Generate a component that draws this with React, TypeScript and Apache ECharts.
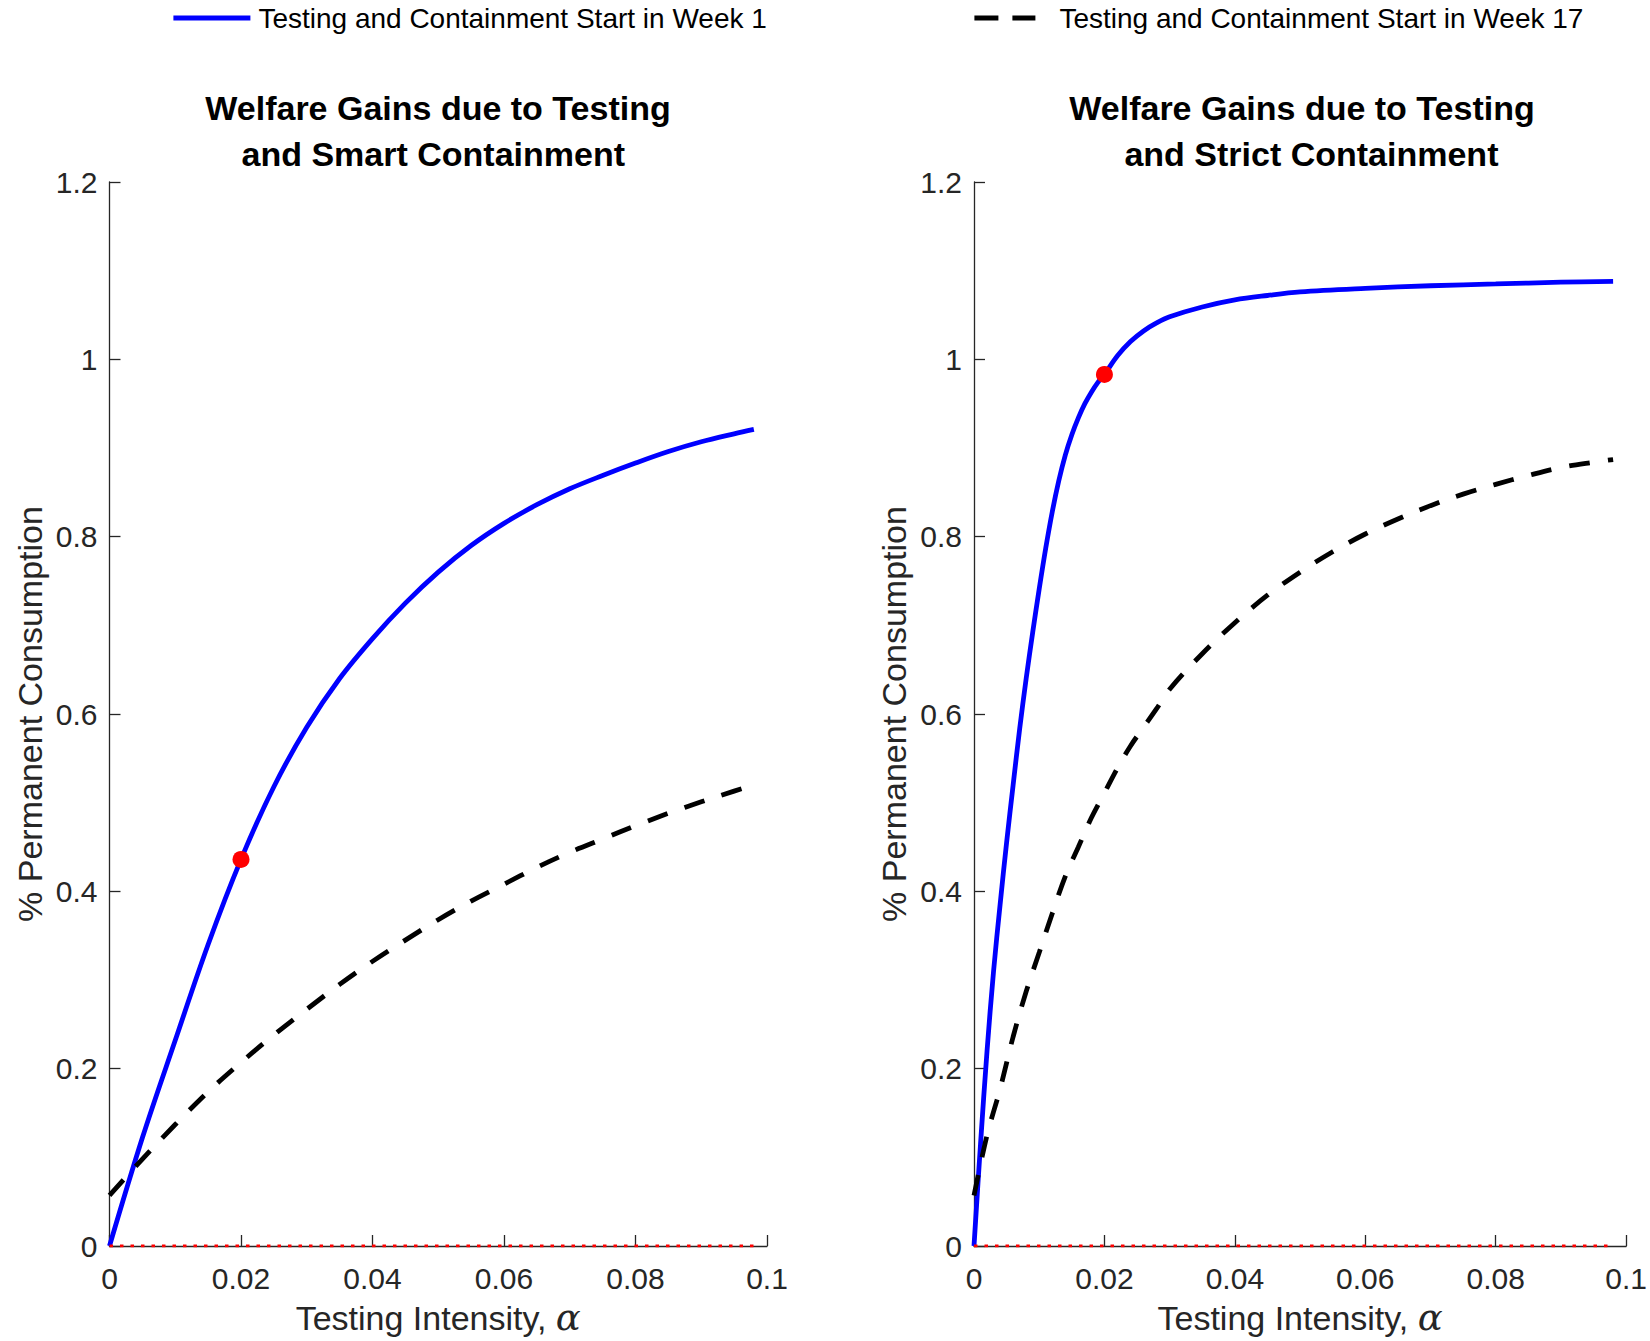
import React, { useEffect, useRef } from "react";
import * as echarts from "echarts";

const FONT = "'Liberation Sans', Arial, Helvetica, sans-serif";

const LEGEND_WEEK1 = "Testing and Containment Start in Week 1";
const LEGEND_WEEK17 = "Testing and Containment Start in Week 17";

const TITLE_SMART = "Welfare Gains due to Testing\nand Smart Containment ";
const TITLE_STRICT = "Welfare Gains due to Testing\n  and Strict Containment";

const X_AXIS_NAME = "Testing Intensity, {a|α}";
const Y_AXIS_NAME = "% Permanent Consumption";

// Left panel: testing and smart containment
const smartWeek1X = [0, 0.005, 0.01, 0.015, 0.02, 0.025, 0.03, 0.035, 0.04, 0.045, 0.05, 0.055, 0.06, 0.065, 0.07, 0.075, 0.08, 0.085, 0.09, 0.095, 0.098];
const smartWeek1Y = [0, 0.122, 0.232, 0.34, 0.436, 0.518, 0.585, 0.64, 0.685, 0.725, 0.76, 0.79, 0.815, 0.836, 0.854, 0.869, 0.883, 0.896, 0.907, 0.916, 0.921];

const smartWeek17X = [0, 0.005, 0.01, 0.015, 0.02, 0.025, 0.03, 0.035, 0.04, 0.045, 0.05, 0.055, 0.06, 0.065, 0.07, 0.075, 0.08, 0.085, 0.09, 0.095, 0.098];
const smartWeek17Y = [0.057, 0.098, 0.137, 0.174, 0.207, 0.238, 0.267, 0.295, 0.321, 0.345, 0.368, 0.389, 0.408, 0.427, 0.444, 0.459, 0.474, 0.488, 0.501, 0.513, 0.52];

// Right panel: testing and strict containment
const strictWeek1X = [0, 0.001, 0.002, 0.003, 0.004, 0.005, 0.006, 0.007, 0.008, 0.009, 0.01, 0.011, 0.012, 0.013, 0.014, 0.015, 0.016, 0.017, 0.018, 0.019, 0.02, 0.022, 0.024, 0.026, 0.028, 0.03, 0.035, 0.04, 0.045, 0.05, 0.06, 0.07, 0.08, 0.09, 0.098];
const strictWeek1Y = [0, 0.115, 0.22, 0.31, 0.385, 0.455, 0.52, 0.583, 0.64, 0.692, 0.741, 0.787, 0.828, 0.863, 0.892, 0.915, 0.934, 0.95, 0.963, 0.974, 0.983, 1.004, 1.02, 1.032, 1.041, 1.048, 1.059, 1.067, 1.072, 1.076, 1.08, 1.083, 1.085, 1.087, 1.088];

const strictWeek17X = [0, 0.002, 0.004, 0.006, 0.008, 0.01, 0.012, 0.014, 0.016, 0.018, 0.02, 0.022, 0.024, 0.026, 0.028, 0.03, 0.035, 0.04, 0.045, 0.05, 0.055, 0.06, 0.065, 0.07, 0.075, 0.08, 0.085, 0.09, 0.095, 0.098];
const strictWeek17Y = [0.057, 0.125, 0.177, 0.236, 0.287, 0.331, 0.375, 0.417, 0.45, 0.483, 0.511, 0.539, 0.564, 0.585, 0.606, 0.628, 0.668, 0.703, 0.734, 0.76, 0.783, 0.803, 0.82, 0.835, 0.848, 0.859, 0.869, 0.878, 0.884, 0.887];

// Optimal testing points (red dots), one per panel
const optimumX = [0.02, 0.02];
const optimumY = [0.436, 0.983];

// Red dotted zero reference line
const zeroLineX = [0, 0.098];
const zeroLineY = [0, 0];

const X_MIN = 0;
const X_MAX = 0.1;
const X_STEP = 0.02;
const Y_MIN = 0;
const Y_MAX = 1.2;
const Y_STEP = 0.2;

const zip = (xs: number[], ys: number[]) => xs.map((x, i) => [x, ys[i]]);
const fmt = (v: number) => String(Number(v.toFixed(3)));

const AXIS_COLOR = "#262626";
const DASH = [21, 18];

function makeXAxis(gridIndex: number) {
  return {
    type: "value",
    gridIndex,
    min: X_MIN,
    max: X_MAX,
    interval: X_STEP,
    name: X_AXIS_NAME,
    nameLocation: "middle",
    nameGap: 53,
    nameTextStyle: {
      fontSize: 34,
      color: AXIS_COLOR,
      fontFamily: FONT,
      rich: { a: { fontSize: 37, fontStyle: "italic", fontFamily: "'DejaVu Serif', serif", color: AXIS_COLOR } },
    },
    axisLine: { show: true, onZero: false, lineStyle: { color: AXIS_COLOR, width: 1.3 } },
    axisTick: { show: true, inside: true, length: 11, lineStyle: { color: AXIS_COLOR, width: 1.3 } },
    axisLabel: { fontSize: 30, color: AXIS_COLOR, fontFamily: FONT, margin: 17, formatter: fmt },
    splitLine: { show: false },
  };
}

function makeYAxis(gridIndex: number) {
  return {
    type: "value",
    gridIndex,
    min: Y_MIN,
    max: Y_MAX,
    interval: Y_STEP,
    name: Y_AXIS_NAME,
    nameLocation: "middle",
    nameGap: 63,
    nameTextStyle: { fontSize: 34, color: AXIS_COLOR, fontFamily: FONT },
    axisLine: { show: true, onZero: false, lineStyle: { color: AXIS_COLOR, width: 1.3 } },
    axisTick: { show: true, inside: true, length: 11, lineStyle: { color: AXIS_COLOR, width: 1.3 } },
    axisLabel: { fontSize: 30, color: AXIS_COLOR, fontFamily: FONT, margin: 12, formatter: fmt },
    splitLine: { show: false },
  };
}

function blueSeries(idx: number, xs: number[], ys: number[]) {
  return {
    type: "line",
    name: LEGEND_WEEK1,
    xAxisIndex: idx,
    yAxisIndex: idx,
    data: zip(xs, ys),
    symbol: "none",
    smooth: 0.35,
    color: "#0000ff",
    lineStyle: { color: "#0000ff", width: 4.8 },
    itemStyle: { color: "#0000ff" },
    z: 3,
  };
}

function dashedSeries(idx: number, xs: number[], ys: number[]) {
  return {
    type: "line",
    name: LEGEND_WEEK17,
    xAxisIndex: idx,
    yAxisIndex: idx,
    data: zip(xs, ys),
    symbol: "none",
    smooth: 0.35,
    color: "#000000",
    lineStyle: { color: "#000000", width: 4.8, type: DASH },
    itemStyle: { color: "#000000" },
    z: 4,
  };
}

function zeroSeries(idx: number) {
  return {
    type: "line",
    name: "zero",
    xAxisIndex: idx,
    yAxisIndex: idx,
    data: zip(zeroLineX, zeroLineY),
    symbol: "none",
    silent: true,
    lineStyle: { color: "#ff0000", width: 3, type: [3.5, 7] },
    z: 5,
  };
}

const hiddenSymbol = { color: "rgba(0,0,0,0)", borderWidth: 0, opacity: 0 };

export default function App() {
  const ref = useRef<HTMLDivElement>(null);

  useEffect(() => {
    if (!ref.current) return;
    const chart = echarts.init(ref.current, null, { renderer: "svg" });
    const option: any = {
      animation: false,
      backgroundColor: "#ffffff",
      textStyle: { fontFamily: FONT },
      title: [
        {
          text: TITLE_SMART,
          left: 433,
          top: 80,
          textAlign: "center",
          textStyle: { fontSize: 34, fontWeight: "bold", lineHeight: 46, color: "#000", fontFamily: FONT },
        },
        {
          text: TITLE_STRICT,
          left: 1297,
          top: 80,
          textAlign: "center",
          textStyle: { fontSize: 34, fontWeight: "bold", lineHeight: 46, color: "#000", fontFamily: FONT },
        },
      ],
      legend: [
        {
          data: [LEGEND_WEEK1],
          left: 171,
          top: 4,
          padding: 0,
          itemWidth: 77,
          itemHeight: 28,
          selectedMode: false,
          itemStyle: hiddenSymbol,
          lineStyle: { color: "#0000ff", width: 4.8 },
          textStyle: { fontSize: 28, color: "#000", fontFamily: FONT, padding: [0, 0, 0, 3] },
        },
        {
          data: [LEGEND_WEEK17],
          left: 972,
          top: 4,
          padding: 0,
          itemWidth: 61,
          itemHeight: 28,
          selectedMode: false,
          itemStyle: hiddenSymbol,
          lineStyle: { color: "#000000", width: 4.8, type: [24, 14] },
          textStyle: { fontSize: 28, color: "#000", fontFamily: FONT, padding: [0, 0, 0, 19] },
        },
      ],
      grid: [
        { left: 109.5, top: 182, width: 657.5, height: 1064, containLabel: false },
        { left: 974, top: 182, width: 656, height: 1064, containLabel: false },
      ],
      xAxis: [makeXAxis(0), makeXAxis(1)],
      yAxis: [makeYAxis(0), makeYAxis(1)],
      series: [
        zeroSeries(0),
        zeroSeries(1),
        blueSeries(0, smartWeek1X, smartWeek1Y),
        dashedSeries(0, smartWeek17X, smartWeek17Y),
        blueSeries(1, strictWeek1X, strictWeek1Y),
        dashedSeries(1, strictWeek17X, strictWeek17Y),
        {
          type: "scatter",
          name: "optimum-smart",
          xAxisIndex: 0,
          yAxisIndex: 0,
          data: [[optimumX[0], optimumY[0]]],
          symbol: "circle",
          symbolSize: 17,
          itemStyle: { color: "#ff0000", opacity: 1 },
          z: 6,
        },
        {
          type: "scatter",
          name: "optimum-strict",
          xAxisIndex: 1,
          yAxisIndex: 1,
          data: [[optimumX[1], optimumY[1]]],
          symbol: "circle",
          symbolSize: 17,
          itemStyle: { color: "#ff0000", opacity: 1 },
          z: 6,
        },
      ],
    };
    chart.setOption(option);
    return () => chart.dispose();
  }, []);

  return (
    <div
      ref={ref}
      style={{ position: "absolute", left: 0, top: 0, width: 1650, height: 1341, background: "#fff" }}
    />
  );
}
